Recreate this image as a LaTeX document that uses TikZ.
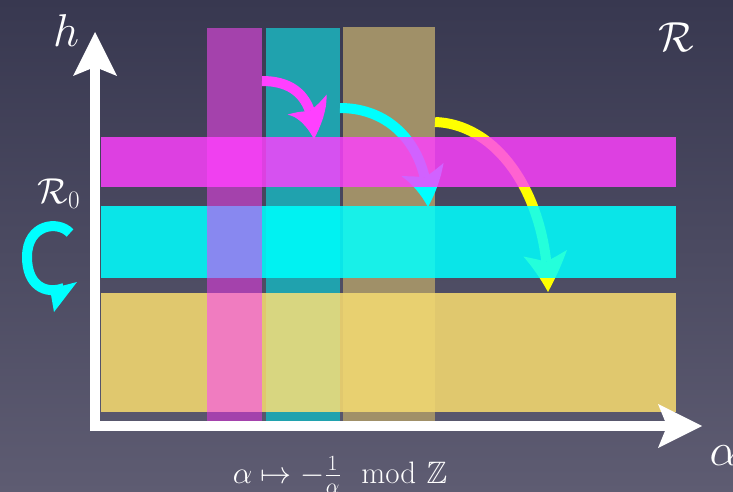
\documentclass[tikz,border=0pt]{standalone}
\usepackage{fix-cm}
\usepackage{amsmath,amssymb}
\usepackage{tikz}
\usetikzlibrary{arrows.meta,bending}
\definecolor{BgTop}{HTML}{383850}
\definecolor{BgBot}{HTML}{5E5C72}
\definecolor{BandMag}{HTML}{FF40FF}
\definecolor{BandCyan}{HTML}{00FFFF}
\definecolor{BandGold}{HTML}{E0C86E}
\definecolor{ArrYellow}{HTML}{FFFF00}
\definecolor{ColPurple}{HTML}{A442AC}
\definecolor{ColTeal}{HTML}{20A2AE}
\definecolor{ColOlive}{HTML}{A09068}
\definecolor{MixPM}{HTML}{F040F0}
\definecolor{MixPC}{HTML}{8888F0}
\definecolor{MixTC}{HTML}{00F2F2}
\definecolor{MixOC}{HTML}{18F0E8}
\definecolor{MixPG}{HTML}{F07CC0}
\definecolor{MixTG}{HTML}{D8D680}
\definecolor{MixOG}{HTML}{E8D070}

\begin{document}
\begin{tikzpicture}[x=1pt,y=-1pt,
  axis/.style={white,line width=10pt,-{Stealth[length=44pt,width=44pt,inset=9pt,line width=0pt]}},
  flow/.style={line width=10pt,-{Stealth[length=40pt,width=44pt,inset=9pt,line width=0pt,bend]}},
  lbl/.style={white,inner sep=0pt,anchor=base}]
  \shade[top color=BgTop,bottom color=BgBot] (0,0) rectangle (733,492);
  \useasboundingbox (0,0) rectangle (733,492);

  % columns
  \fill[ColPurple] (207,28) rectangle (262,421);
  \fill[ColTeal] (266,28) rectangle (340,421);
  \fill[ColOlive] (343,27) rectangle (435,421);

  % flows
  \coordinate (m0) at (262,81);  \coordinate (m1) at (314,139);
  \coordinate (c0) at (340,108); \coordinate (c1) at (428,207);
  \coordinate (y0) at (435,122); \coordinate (y1) at (548,292);
  \draw[flow,BandMag] (m0) .. controls (298,81) and (314,102) .. (m1);
  \draw[flow,BandCyan] (c0) .. controls (392,108) and (428,148) .. (c1);
  \draw[flow,ArrYellow] (y0) .. controls (498,124) and (548,196) .. (y1);

  % bands
  \fill[BandMag,fill opacity=.82] (101,137) rectangle (676,187);
  \fill[BandCyan,fill opacity=.86] (101,206) rectangle (676,278);
  \fill[BandGold] (101,293) rectangle (676,412);
  \foreach \xa/\xb/\ya/\yb/\col in {207/262/137/187/MixPM,
      207/262/206/278/MixPC, 266/340/206/278/MixTC, 343/435/206/278/MixOC,
      207/262/293/412/MixPG, 266/340/293/412/MixTG, 343/435/293/412/MixOG}
    \fill[\col] (\xa,\ya) rectangle (\xb,\yb);

  % loop on R_0
  \draw[BandCyan,line width=10pt] (70,233) .. controls (58,220) and (27,224) .. (27,257)
    .. controls (27,285) and (45,295) .. (64,288);
  \fill[BandCyan] (77,282) -- (54,312) -- (50,289) -- cycle;

  % axes
  \coordinate (O) at (95,431);
  \coordinate (Ox) at (90,426);
  \coordinate (htip) at (95,32);
  \coordinate (atip) at (702,426);
  \draw[axis] (O) -- (htip);
  \draw[axis] (Ox) -- (atip);

  \node[lbl,font=\fontsize{46}{50}\selectfont] (hlab) at (66,47) {$h$};
  \node[lbl,font=\fontsize{46}{50}\selectfont] (alab) at (724,465) {$\alpha$};
  \node[lbl,font=\fontsize{42}{46}\selectfont] (rlab) at (676,52) {$\mathcal{R}$};
  \node[lbl,font=\fontsize{36}{40}\selectfont] (r0lab) at (59,203) {$\mathcal{R}_0$};
  \node[lbl,font=\fontsize{31}{35}\selectfont] (maplab) at (340,483)
    {$\alpha\mapsto-\frac{1}{\alpha}\mod\mathbb{Z}$};
\end{tikzpicture}
\end{document}
